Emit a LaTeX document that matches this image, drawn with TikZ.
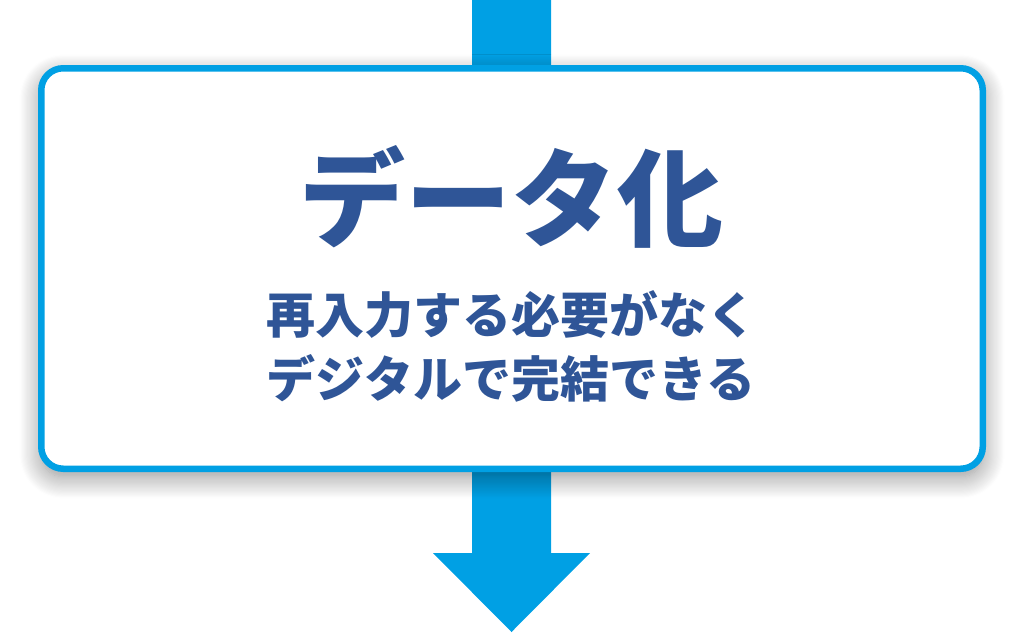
\documentclass[tikz,border=0pt]{standalone}
\usepackage{fontspec}
\newfontfamily\cjk{Noto Sans CJK JP}
\usetikzlibrary{shadows.blur}
\definecolor{flowcyan}{RGB}{0,160,228}
\definecolor{textblue}{RGB}{47,85,151}

\begin{document}
\begin{tikzpicture}[x=1pt,y=-1pt]
\useasboundingbox (0,0) rectangle (1024,632);
\coordinate (top) at (511.5,0);
\coordinate (tip) at (511.5,632);
\fill[flowcyan] (472,0) -- (551,0) -- (551,553) -- (590,553) -- (tip) -- (433,553) -- (472,553) -- cycle;

\node[shape=rectangle,draw=flowcyan,fill=white,line width=6.5pt,rounded corners=22pt,minimum width=941.5pt,minimum height=400.5pt,blur shadow={shadow xshift=0pt,shadow yshift=-8pt,shadow blur radius=22pt,shadow blur steps=20,shadow opacity=45}] (box) at (512,268.5) {};
\node[inner sep=0pt,text=textblue,font=\cjk\bfseries\fontsize{106}{110}\selectfont] (title) at (511,197) {データ化};
\node[inner sep=0pt,align=center,text=textblue,font=\cjk\bfseries\fontsize{49}{64}\selectfont] (sub) at (511,346) {再入力する必要がなく\\デジタルで完結できる};
\end{tikzpicture}
\end{document}
